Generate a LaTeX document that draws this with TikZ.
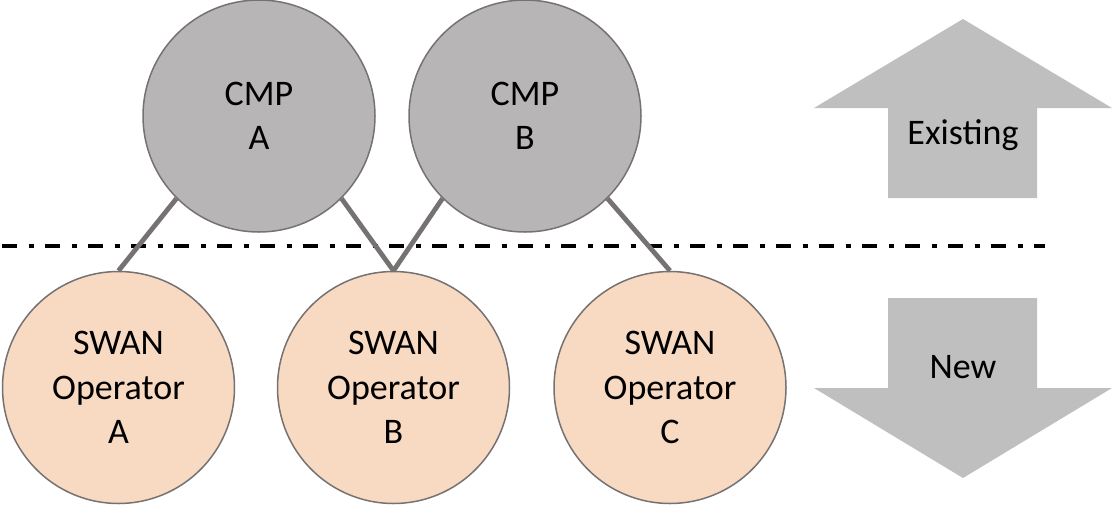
\documentclass[tikz,border=0pt]{standalone}
\usepackage{fontspec}
\setmainfont{Carlito}
\definecolor{cmpfill}{RGB}{183,181,182}
\definecolor{swanfill}{RGB}{248,217,194}
\definecolor{edgegray}{RGB}{118,114,113}
\definecolor{arrowfill}{RGB}{191,191,191}
\tikzset{
  bubble/.style={circle, draw=edgegray, line width=1.5pt, minimum size=232pt, inner sep=0pt,
    align=center, font=\fontsize{36}{44.5}\selectfont},
  cmpbubble/.style={bubble, fill=cmpfill},
  swanbubble/.style={bubble, fill=swanfill},
  link/.style={draw=edgegray, line width=4.8pt},
  divider/.style={line width=4pt, dash pattern=on 15pt off 11.5pt on 5pt off 11.5pt},
  bigarrow/.style={fill=arrowfill, draw=none},
  arrowlabel/.style={font=\fontsize{36}{44.5}\selectfont, inner sep=0pt}
}
\begin{document}
\begin{tikzpicture}[x=1pt,y=-1pt]
\useasboundingbox (0,0) rectangle (1112,504);
% divider
\coordinate (dl) at (2,246);
\coordinate (dr) at (1045,246);
\draw[divider] (dl) -- (dr);
% arrows
\fill[bigarrow] (963,19) -- (1112,108) -- (1037,108) -- (1037,198) -- (888,198) -- (888,108) -- (814,108) -- cycle;
\fill[bigarrow] (888,298) -- (1037,298) -- (1037,388) -- (1112,388) -- (963,478) -- (814,388) -- (888,388) -- cycle;
\node[arrowlabel, anchor=base] (exist) at (963,144) {Existing};
\node[arrowlabel, anchor=base] (new) at (963,378) {New};
% bubbles
\coordinate (pA) at (259,116);
\coordinate (pB) at (525,116);
\coordinate (pSA) at (118.5,387.5);
\coordinate (pSB) at (393.5,387.5);
\coordinate (pSC) at (670,387.5);
\node[cmpbubble] (cmpA) at (pA) {CMP\\A};
\node[cmpbubble] (cmpB) at (pB) {CMP\\B};
\node[swanbubble] (swanA) at (pSA) {SWAN\\Operator\\A};
\node[swanbubble] (swanB) at (pSB) {SWAN\\Operator\\B};
\node[swanbubble] (swanC) at (pSC) {SWAN\\Operator\\C};
% links
\draw[link] (cmpA.225) -- (swanA.north);
\draw[link] (cmpA.-45) -- (swanB.north);
\draw[link] (cmpB.225) -- (swanB.north);
\draw[link] (cmpB.-45) -- (swanC.north);
\end{tikzpicture}
\end{document}
